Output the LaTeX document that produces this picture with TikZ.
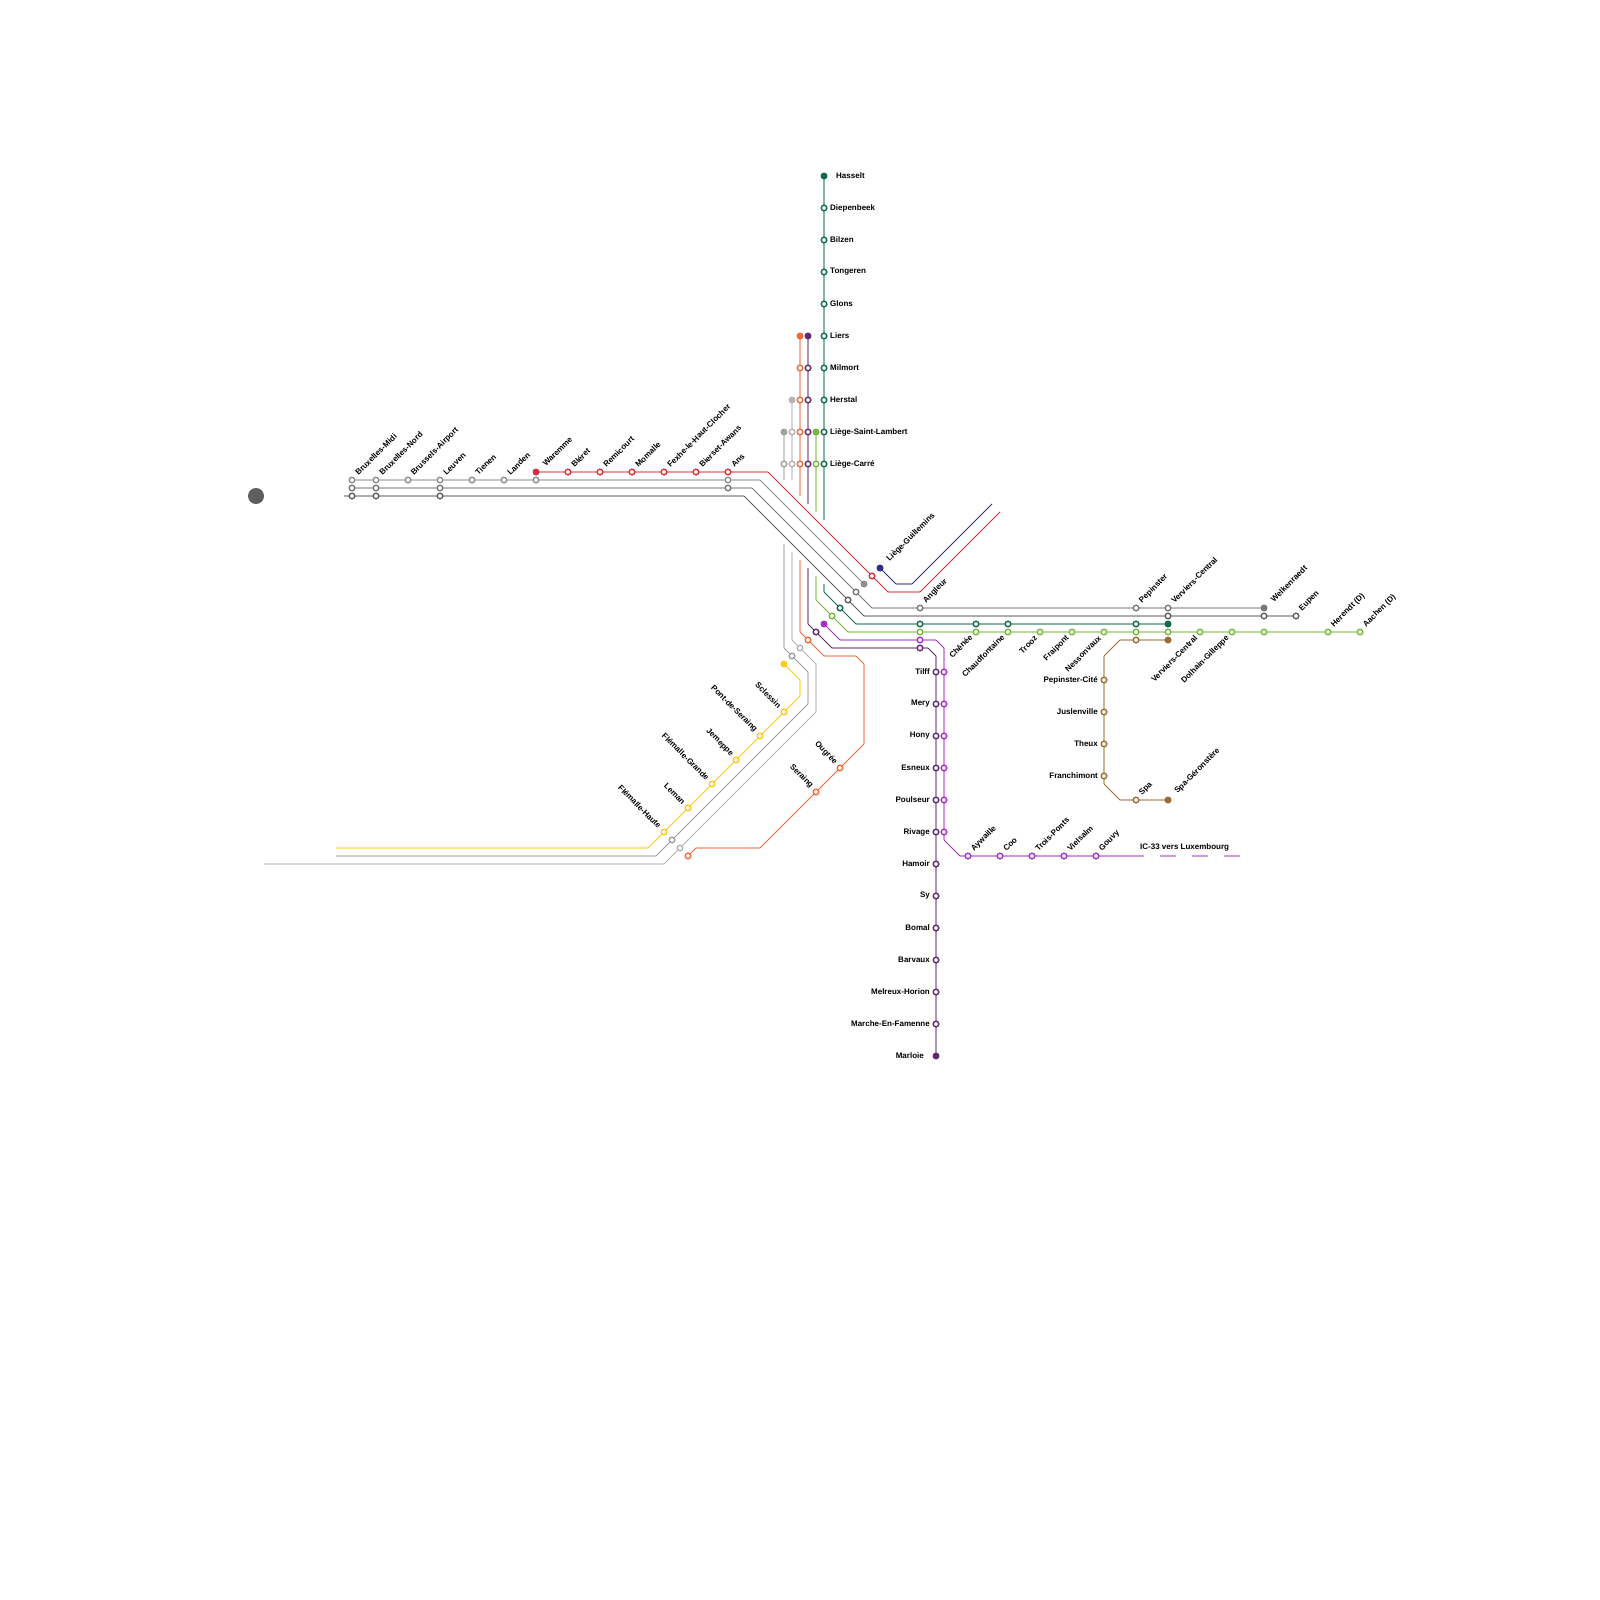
\documentclass[tikz,border=0pt]{standalone}
\usepackage{fontspec}
\setmainfont{Liberation Sans}
\usetikzlibrary{backgrounds}
\definecolor{cRed}{HTML}{D7303C}
\definecolor{cBlue}{HTML}{2E2E85}
\definecolor{cGA}{HTML}{8E8E8E}
\definecolor{cGB}{HTML}{787878}
\definecolor{cGC}{HTML}{5E5E5E}
\definecolor{cLG}{HTML}{B4B4B4}
\definecolor{cMG}{HTML}{A0A0A0}
\definecolor{cOr}{HTML}{F4693A}
\definecolor{cPu}{HTML}{5F2A6E}
\definecolor{cLi}{HTML}{76B83A}
\definecolor{cDG}{HTML}{0F6B4B}
\definecolor{cVi}{HTML}{A42FCB}
\definecolor{cYe}{HTML}{FDCB1C}
\definecolor{cBr}{HTML}{9E6A35}
\tikzset{
  x=1pt,y=-1pt,
  ring/.style={circle,draw=#1,fill=white,line width=1.4pt,inner sep=0pt,minimum size=5.6pt},
  dot/.style={circle,draw=none,fill=#1,inner sep=0pt,minimum size=7pt},
  hv/.style={draw=#1,line width=2pt,draw opacity=.5,line cap=butt},
  dg/.style={draw=#1,line width=.9pt,line cap=butt},
  lbl/.style={font=\fontsize{8}{9}\selectfont\bfseries,text=black,inner sep=0pt},
  up/.style={lbl,rotate=45,anchor=west},
  dn/.style={lbl,rotate=45,anchor=east},
  nw/.style={lbl,rotate=-45,anchor=east},
  rt/.style={lbl,anchor=west},
  lf/.style={lbl,anchor=east},
}
\newcommand{\hvseg}[2]{\draw[hv=#1] #2;}
\newcommand{\dgseg}[2]{\draw[dg=#1] #2;}
\begin{document}
\begin{tikzpicture}
\useasboundingbox (0,0) rectangle (1600,1600);

\node[dot=cGC,minimum size=16pt] (bigdot) at (256,496) {};

% ---- red line
\node[dot=cRed] (r0) at (536,472) {};
\foreach \n/\x in {r1/568,r2/600,r3/632,r4/664,r5/696,r6/728}{\node[ring=cRed] (\n) at (\x,472) {};}
\node[ring=cRed] (rLG) at (872,576) {};
\coordinate (rA) at (768,472); \coordinate (rB) at (888,592); \coordinate (rC) at (920,592); \coordinate (rD) at (1000,512);
% ---- blue line
\node[dot=cBlue] (b0) at (880,568) {};
\coordinate (bA) at (896,584); \coordinate (bB) at (912,584); \coordinate (bC) at (992,504);
% ---- gray A (y=480)
\foreach \n/\x in {a1/352,a2/376,a3/408,a4/440,a5/472,a6/504,a7/536,a8/728}{\node[ring=cGA] (\n) at (\x,480) {};}
\node[dot=cGA] (aEnd) at (864,584) {};
\coordinate (aA) at (760,480);
% ---- gray B (y=488)
\foreach \n/\x in {g1/352,g2/376,g3/440,g4/728}{\node[ring=cGB] (\n) at (\x,488) {};}
\coordinate (gA) at (752,488); \coordinate (gB) at (872,608);
\node[ring=cGB] (g5) at (856,592) {};
\foreach \n/\x in {g6/920,g7/1136,g8/1168}{\node[ring=cGB] (\n) at (\x,608) {};}
\node[dot=cGB] (g9) at (1264,608) {};
% ---- gray C (y=496)
\coordinate (cS) at (344,496);
\foreach \n/\x in {k1/352,k2/376,k3/440}{\node[ring=cGC] (\n) at (\x,496) {};}
\coordinate (kA) at (744,496); \coordinate (kB) at (864,616);
\node[ring=cGC] (k4) at (848,600) {};
\foreach \n/\x in {k5/1168,k6/1264,k7/1296}{\node[ring=cGC] (\n) at (\x,616) {};}
% ---- dark green
\node[dot=cDG] (d0) at (824,176) {};
\foreach \n/\y in {d1/208,d2/240,d3/272,d4/304,d5/336,d6/368,d7/400,d8/432,d9/464}{\node[ring=cDG] (\n) at (824,\y) {};}
\coordinate (dE) at (824,520); \coordinate (dS) at (824,584); \coordinate (dA) at (824,592); \coordinate (dB) at (856,624);
\node[ring=cDG] (d10) at (840,608) {};
\foreach \n/\x in {d11/920,d12/976,d13/1008,d14/1136}{\node[ring=cDG] (\n) at (\x,624) {};}
\node[dot=cDG] (d15) at (1168,624) {};
% ---- light green
\node[dot=cLi] (l0) at (816,432) {};
\node[ring=cLi] (l1) at (816,464) {};
\coordinate (lE) at (816,512); \coordinate (lS) at (816,576); \coordinate (lA) at (816,600); \coordinate (lB) at (848,632);
\node[ring=cLi] (l2) at (832,616) {};
\foreach \n/\x in {l3/920,l4/976,l5/1008,l6/1040,l7/1072,l8/1104,l9/1136,l10/1168,l11/1200,l12/1232,l13/1264,l14/1328,l15/1360}{\node[ring=cLi] (\n) at (\x,632) {};}
% ---- dark purple
\node[dot=cPu] (p0) at (808,336) {};
\foreach \n/\y in {p1/368,p2/400,p3/432,p4/464}{\node[ring=cPu] (\n) at (808,\y) {};}
\coordinate (pE) at (808,504); \coordinate (pS) at (808,568); \coordinate (pA) at (808,624); \coordinate (pB) at (832,648); \coordinate (pC) at (928,648); \coordinate (pD) at (936,656);
\node[ring=cPu] (p5) at (816,632) {};
\node[ring=cPu] (p6) at (920,648) {};
\foreach \n/\y in {p7/672,p8/704,p9/736,p10/768,p11/800,p12/832,p13/864,p14/896,p15/928,p16/960,p17/992,p18/1024}{\node[ring=cPu] (\n) at (936,\y) {};}
\node[dot=cPu] (p19) at (936,1056) {};
% ---- orange
\node[dot=cOr] (o0) at (800,336) {};
\foreach \n/\y in {o1/368,o2/400,o3/432,o4/464}{\node[ring=cOr] (\n) at (800,\y) {};}
\coordinate (oE) at (800,496); \coordinate (oS) at (800,560); \coordinate (oA) at (800,632); \coordinate (oB) at (824,656); \coordinate (oC) at (856,656); \coordinate (oD) at (864,664); \coordinate (oF) at (864,744); \coordinate (oG) at (760,848); \coordinate (oH) at (696,848);
\node[ring=cOr] (o5) at (808,640) {};
\node[ring=cOr] (o6) at (840,768) {};
\node[ring=cOr] (o7) at (816,792) {};
\node[ring=cOr] (o8) at (688,856) {};
% ---- light gray x=792
\node[dot=cLG] (s0) at (792,400) {};
\foreach \n/\y in {s1/432,s2/464}{\node[ring=cLG] (\n) at (792,\y) {};}
\coordinate (sE) at (792,480); \coordinate (sS) at (792,552); \coordinate (sA) at (792,640); \coordinate (sB) at (816,664); \coordinate (sC) at (816,712); \coordinate (sD) at (664,864); \coordinate (sF) at (264,864);
\node[ring=cLG] (s3) at (800,648) {};
\node[ring=cLG] (s4) at (680,848) {};
% ---- mid gray x=784
\node[dot=cMG] (m0) at (784,432) {};
\node[ring=cMG] (m1) at (784,464) {};
\coordinate (mE) at (784,480); \coordinate (mS) at (784,544); \coordinate (mA) at (784,648); \coordinate (mB) at (808,672); \coordinate (mC) at (808,704); \coordinate (mD) at (656,856); \coordinate (mF) at (336,856);
\node[ring=cMG] (m2) at (792,656) {};
\node[ring=cMG] (m3) at (672,840) {};
% ---- yellow
\node[dot=cYe] (y0) at (784,664) {};
\coordinate (yA) at (800,680); \coordinate (yB) at (800,696); \coordinate (yC) at (648,848); \coordinate (yD) at (336,848);
\node[ring=cYe] (y1) at (784,712) {};
\node[ring=cYe] (y2) at (760,736) {};
\node[ring=cYe] (y3) at (736,760) {};
\node[ring=cYe] (y4) at (712,784) {};
\node[ring=cYe] (y5) at (688,808) {};
\node[ring=cYe] (y6) at (664,832) {};
% ---- violet
\node[dot=cVi] (v0) at (824,624) {};
\coordinate (vA) at (840,640); \coordinate (vB) at (936,640); \coordinate (vC) at (944,648); \coordinate (vD) at (944,840); \coordinate (vF) at (960,856); \coordinate (vG) at (1144,856);
\node[ring=cVi] (v1) at (920,640) {};
\foreach \n/\y in {v2/672,v3/704,v4/736,v5/768,v6/800,v7/832}{\node[ring=cVi] (\n) at (944,\y) {};}
\foreach \n/\x in {v8/968,v9/1000,v10/1032,v11/1064,v12/1096}{\node[ring=cVi] (\n) at (\x,856) {};}
\coordinate (vd1) at (1160,856); \coordinate (vd2) at (1176,856); \coordinate (vd3) at (1192,856); \coordinate (vd4) at (1208,856); \coordinate (vd5) at (1224,856); \coordinate (vd6) at (1240,856);
% ---- brown
\node[dot=cBr] (w0) at (1168,640) {};
\node[ring=cBr] (w1) at (1136,640) {};
\coordinate (wA) at (1120,640); \coordinate (wB) at (1104,656); \coordinate (wC) at (1104,784); \coordinate (wD) at (1120,800);
\foreach \n/\y in {w2/680,w3/712,w4/744,w5/776}{\node[ring=cBr] (\n) at (1104,\y) {};}
\node[ring=cBr] (w6) at (1136,800) {};
\node[dot=cBr] (w7) at (1168,800) {};

% ---- connectors, under the stations
\begin{pgfonlayer}{background}
\fill[white] (0,0) rectangle (1600,1600);
\hvseg{cRed}{(r0.center) -- (rA)}
\dgseg{cRed}{(rA) -- (rLG.center) -- (rB)}
\hvseg{cRed}{(rB) -- (rC)}
\dgseg{cRed}{(rC) -- (rD)}
\dgseg{cBlue}{(b0.center) -- (bA)}
\hvseg{cBlue}{(bA) -- (bB)}
\dgseg{cBlue}{(bB) -- (bC)}
\hvseg{cGA}{(a1.center) -- (aA)}
\dgseg{cGA}{(aA) -- (aEnd.center)}
\hvseg{cGB}{(g1.center) -- (gA)}
\dgseg{cGB}{(gA) -- (g5.center) -- (gB)}
\hvseg{cGB}{(gB) -- (g9.center)}
\hvseg{cGC}{(cS) -- (kA)}
\dgseg{cGC}{(kA) -- (k4.center) -- (kB)}
\hvseg{cGC}{(kB) -- (k7.center)}
\hvseg{cDG}{(d0.center) -- (dE)}
\hvseg{cDG}{(dS) -- (dA)}
\dgseg{cDG}{(dA) -- (d10.center) -- (dB)}
\hvseg{cDG}{(dB) -- (d15.center)}
\hvseg{cLi}{(l0.center) -- (lE)}
\hvseg{cLi}{(lS) -- (lA)}
\dgseg{cLi}{(lA) -- (l2.center) -- (lB)}
\hvseg{cLi}{(lB) -- (l15.center)}
\hvseg{cPu}{(p0.center) -- (pE)}
\hvseg{cPu}{(pS) -- (pA)}
\dgseg{cPu}{(pA) -- (p5.center) -- (pB)}
\hvseg{cPu}{(pB) -- (pC)}
\dgseg{cPu}{(pC) -- (pD)}
\hvseg{cPu}{(pD) -- (p19.center)}
\hvseg{cOr}{(o0.center) -- (oE)}
\hvseg{cOr}{(oS) -- (oA)}
\dgseg{cOr}{(oA) -- (o5.center) -- (oB)}
\hvseg{cOr}{(oB) -- (oC)}
\dgseg{cOr}{(oC) -- (oD)}
\hvseg{cOr}{(oD) -- (oF)}
\dgseg{cOr}{(oF) -- (o6.center) -- (o7.center) -- (oG)}
\hvseg{cOr}{(oG) -- (oH)}
\dgseg{cOr}{(oH) -- (o8.center)}
\hvseg{cLG}{(s0.center) -- (sE)}
\hvseg{cLG}{(sS) -- (sA)}
\dgseg{cLG}{(sA) -- (s3.center) -- (sB)}
\hvseg{cLG}{(sB) -- (sC)}
\dgseg{cLG}{(sC) -- (s4.center) -- (sD)}
\hvseg{cLG}{(sD) -- (sF)}
\hvseg{cMG}{(m0.center) -- (mE)}
\hvseg{cMG}{(mS) -- (mA)}
\dgseg{cMG}{(mA) -- (m2.center) -- (mB)}
\hvseg{cMG}{(mB) -- (mC)}
\dgseg{cMG}{(mC) -- (m3.center) -- (mD)}
\hvseg{cMG}{(mD) -- (mF)}
\dgseg{cYe}{(y0.center) -- (yA)}
\hvseg{cYe}{(yA) -- (yB)}
\dgseg{cYe}{(yB) -- (y1.center) -- (y6.center) -- (yC)}
\hvseg{cYe}{(yC) -- (yD)}
\dgseg{cVi}{(v0.center) -- (vA)}
\hvseg{cVi}{(vA) -- (vB)}
\dgseg{cVi}{(vB) -- (vC)}
\hvseg{cVi}{(vC) -- (vD)}
\dgseg{cVi}{(vD) -- (vF)}
\hvseg{cVi}{(vF) -- (vG)}
\hvseg{cVi}{(vd1) -- (vd2)}
\hvseg{cVi}{(vd3) -- (vd4)}
\hvseg{cVi}{(vd5) -- (vd6)}
\hvseg{cBr}{(w0.center) -- (wA)}
\dgseg{cBr}{(wA) -- (wB)}
\hvseg{cBr}{(wB) -- (wC)}
\dgseg{cBr}{(wC) -- (wD)}
\hvseg{cBr}{(wD) -- (w7.center)}
\end{pgfonlayer}

% ---- labels
\foreach \n/\t in {a1/Bruxelles-Midi,a2/Bruxelles-Nord,a3/Brussels-Airport,a4/Leuven,a5/Tienen,a6/Landen,r1/Bléret,r2/Remicourt,r3/Momalle,r4/Fexhe-le-Haut-Clocher,r5/Bierset-Awans,r6/Ans,g6/Angleur,g7/Pepinster,g8/Verviers-Central,k7/Eupen,l14/Herendt (D),l15/Aachen (D),v8/Aywaille,v9/Coo,v10/Trois-Ponts,v11/Vielsalm,v12/Gouvy,w6/Spa}
  {\node[up] (t\n) at ([shift={(4.5,-6)}]\n.center) {\t};}
\foreach \n/\t in {b0/Liège-Guillemins,g9/Welkenraedt,w7/Spa-Géronstère}
  {\node[up] (t\n) at ([shift={(8,-7.5)}]\n.center) {\t};}
\node[up] (tr0) at (544,465) {Waremme};
\foreach \n/\t in {l6/Trooz,l7/Fraipont,l8/Nessonvaux,l11/Verviers-Central,l12/Dolhain-Gilleppe}
  {\node[dn] (t\n) at ([shift={(-4,5)}]\n.center) {\t};}
\foreach \n/\t in {l4/Chênée,l5/Chaudfontaine}
  {\node[dn] (t\n) at ([shift={(-5,4)}]\n.center) {\t};}
\foreach \n/\t in {y1/Sclessin,y2/Pont-de-Seraing,y3/Jemeppe,y4/Flémalle-Grande,y5/Leman,y6/Flémalle-Haute,o6/Ougrée,o7/Seraing}
  {\node[nw] (t\n) at ([shift={(-4,-5)}]\n.center) {\t};}
\foreach \n/\t in {d1/Diepenbeek,d2/Bilzen,d3/Tongeren,d4/Glons,d5/Liers,d6/Milmort,d7/Herstal,d8/Liège-Saint-Lambert,d9/Liège-Carré}
  {\node[rt] (t\n) at ([shift={(6,0)}]\n.center) {\t};}
\node[rt] (td0) at (836,175.5) {Hasselt};
\foreach \n/\t in {p7/Tilff,p8/Mery,p9/Hony,p10/Esneux,p11/Poulseur,p12/Rivage,p13/Hamoir,p14/Sy,p15/Bomal,p16/Barvaux,p17/Melreux-Horion,p18/Marche-En-Famenne,w2/Pepinster-Cité,w3/Juslenville,w4/Theux,w5/Franchimont}
  {\node[lf] (t\n) at ([shift={(-6,0)}]\n.center) {\t};}
\node[lf] (tp19) at ([shift={(-12,0)}]p19.center) {Marloie};
\node[rt] (tic) at (1140,847) {IC-33 vers Luxembourg};
\end{tikzpicture}
\end{document}
